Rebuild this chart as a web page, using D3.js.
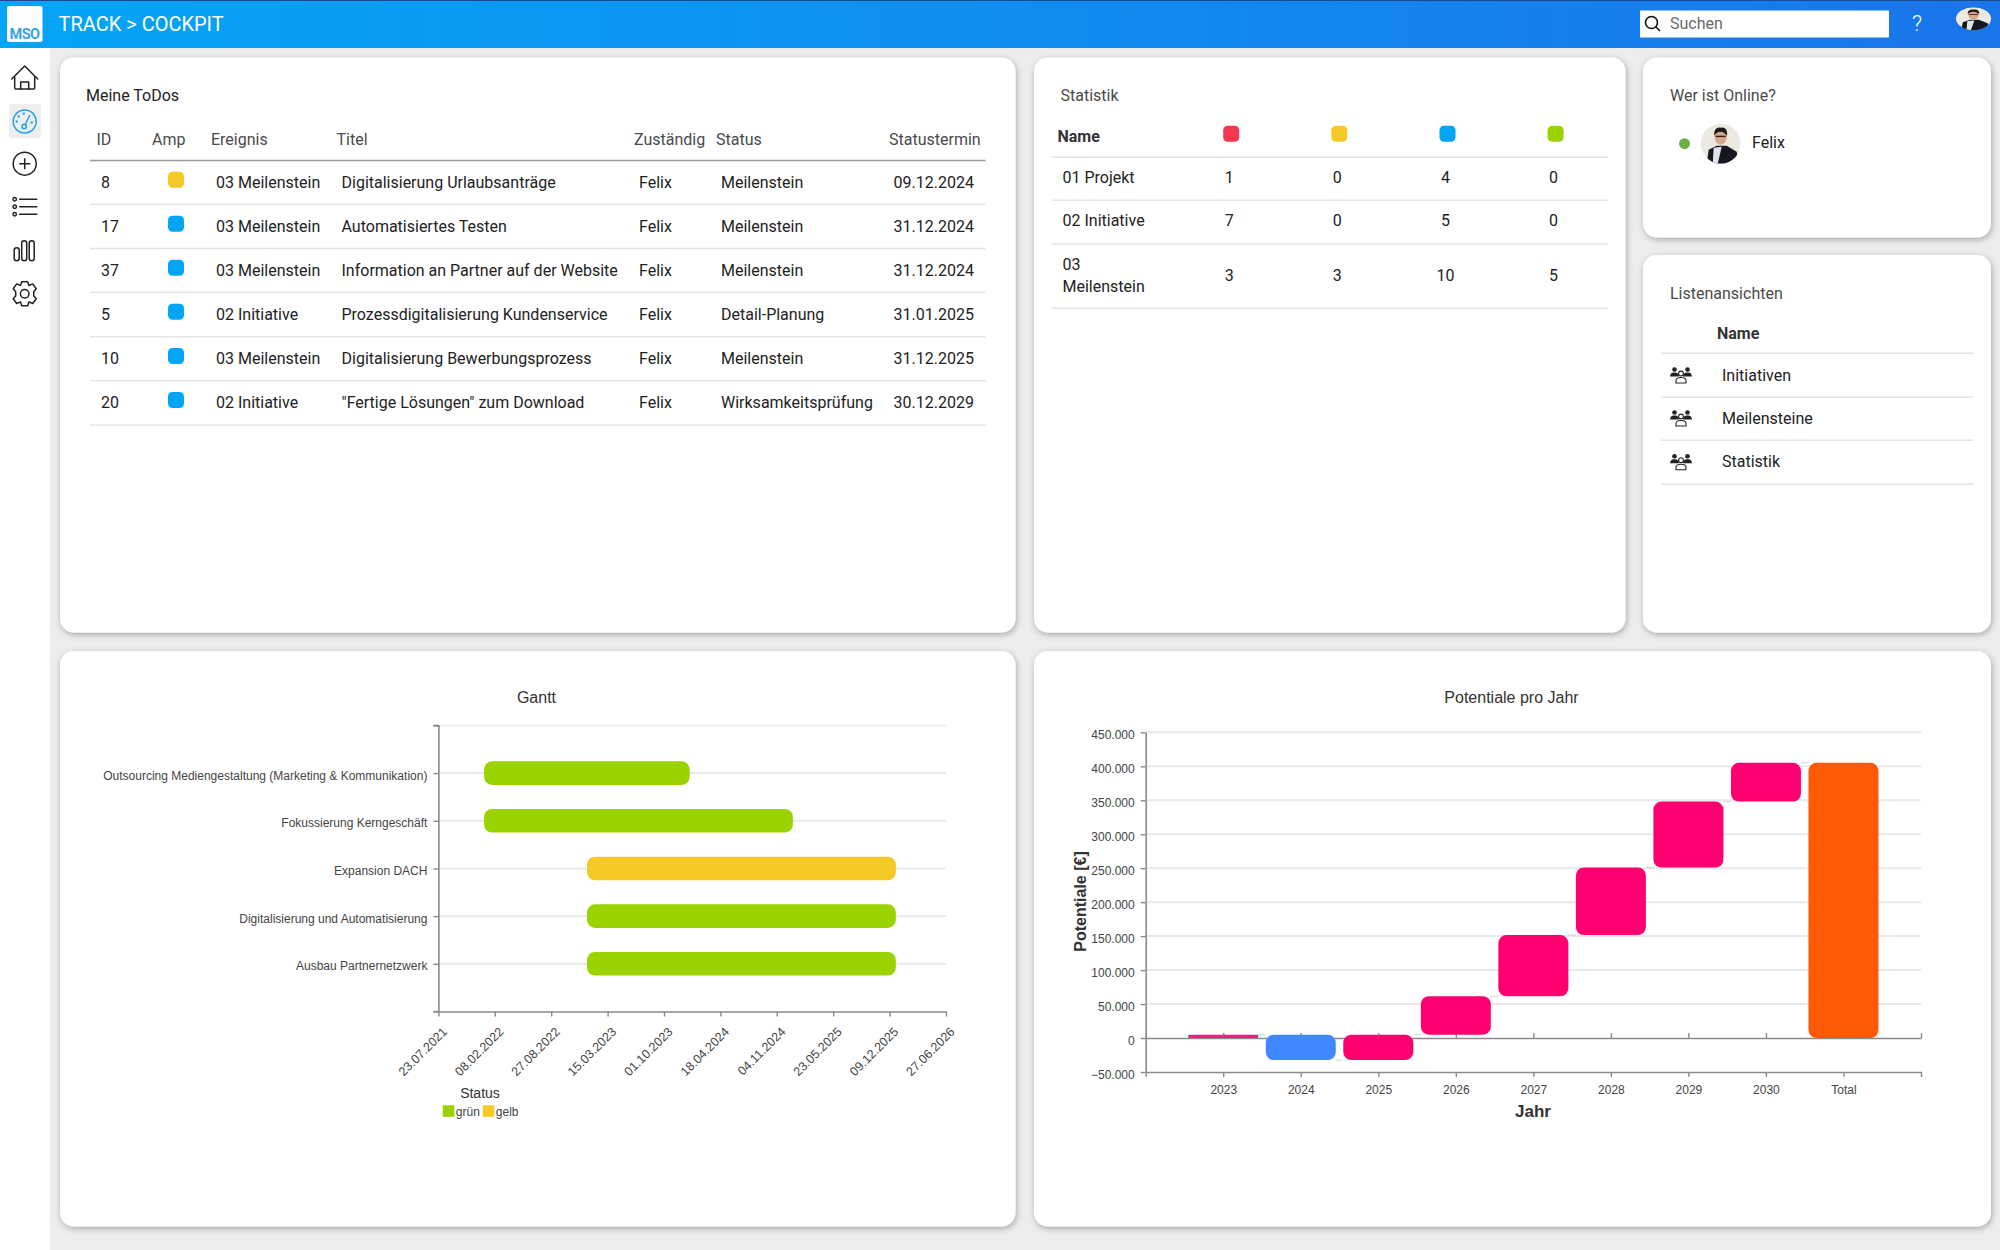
<!DOCTYPE html>
<html>
<head>
<meta charset="utf-8">
<script src="https://cdn.jsdelivr.net/npm/d3@7"></script>
<style>
  body { margin: 0; background: #ededed; }
  svg { display: block; }
  text { font-family: Roboto, sans-serif; }
  .chart text { font-family: "Liberation Sans", Arial, sans-serif; }
</style>
</head>
<body>
<div id="page"></div>
<script>
// ...............................
// data

// Meine ToDos
var todoHeaders = ["ID", "Amp", "Ereignis", "Titel", "Zuständig", "Status", "Statustermin"];
var todoIds = ["8", "17", "37", "5", "10", "20"];
var todoAmp = ["gelb", "blau", "blau", "blau", "blau", "blau"];
var todoEvents = ["03 Meilenstein", "03 Meilenstein", "03 Meilenstein", "02 Initiative", "03 Meilenstein", "02 Initiative"];
var todoTitles = ["Digitalisierung Urlaubsanträge", "Automatisiertes Testen", "Information an Partner auf der Website",
                  "Prozessdigitalisierung Kundenservice", "Digitalisierung Bewerbungsprozess", "\"Fertige Lösungen\" zum Download"];
var todoOwners = ["Felix", "Felix", "Felix", "Felix", "Felix", "Felix"];
var todoStatus = ["Meilenstein", "Meilenstein", "Meilenstein", "Detail-Planung", "Meilenstein", "Wirksamkeitsprüfung"];
var todoDates = ["09.12.2024", "31.12.2024", "31.12.2024", "31.01.2025", "31.12.2025", "30.12.2029"];

// Statistik
var statColours = ["rot", "gelb", "blau", "grün"];
var statNames = [["01 Projekt"], ["02 Initiative"], ["03", "Meilenstein"]];
var statRed = [1, 7, 3];
var statYellow = [0, 0, 3];
var statBlue = [4, 5, 10];
var statGreen = [0, 0, 5];

// Listenansichten
var listNames = ["Initiativen", "Meilensteine", "Statistik"];

// Gantt
var ganttTasks = ["Outsourcing Mediengestaltung (Marketing & Kommunikation)", "Fokussierung Kerngeschäft",
                  "Expansion DACH", "Digitalisierung und Automatisierung", "Ausbau Partnernetzwerk"];
var ganttStart = ["01.01.2022", "01.01.2022", "01.01.2023", "01.01.2023", "01.01.2023"];
var ganttEnd = ["31.12.2023", "31.12.2024", "31.12.2025", "31.12.2025", "31.12.2025"];
var ganttStatus = ["grün", "grün", "gelb", "grün", "grün"];
var ganttTicks = ["23.07.2021", "08.02.2022", "27.08.2022", "15.03.2023", "01.10.2023",
                  "18.04.2024", "04.11.2024", "23.05.2025", "09.12.2025", "27.06.2026"];
var legendNames = ["grün", "gelb"];

// Potentiale pro Jahr
var potYears = ["2023", "2024", "2025", "2026", "2027", "2028", "2029", "2030", "Total"];
var potFrom = [0, 5000, -32500, 5000, 61500, 151500, 251000, 348000, 0];
var potTo = [5000, -32500, 5000, 61500, 151500, 251000, 348000, 405000, 405000];
var potKinds = ["plus", "minus", "plus", "plus", "plus", "plus", "plus", "plus", "total"];
var potTicks = [-50000, 0, 50000, 100000, 150000, 200000, 250000, 300000, 350000, 400000, 450000];

// ...............................
// colours

var colour_amp = { rot: "#f4384f", gelb: "#f6ca26", blau: "#05a5f6", "grün": "#9bd300" };
var colour_kind = { plus: "#ff0070", minus: "#3f88ff", total: "#ff5a08" };
var colour_text = "#222", colour_head = "#4a4a4a", colour_line = "#e4e4e4";
var colour_grid = "#e9e9e9", colour_axis = "#8a8a8a", colour_label = "#444";

var svg = d3.select("#page").append("svg").attr("width", 2000).attr("height", 1250);
var defs = svg.append("defs");

var grad = defs.append("linearGradient").attr("id", "headGrad");
grad.append("stop").attr("offset", "0%").attr("stop-color", "#05a5f5");
grad.append("stop").attr("offset", "100%").attr("stop-color", "#1a75ea");

var shadow = defs.append("filter").attr("id", "cardShadow")
  .attr("x", "-5%").attr("y", "-5%").attr("width", "110%").attr("height", "110%");
shadow.append("feDropShadow").attr("dx", 1).attr("dy", 2).attr("stdDeviation", 3)
  .attr("flood-color", "#000").attr("flood-opacity", 0.3);

function fn_text(g, x, y, str, size, fill, anchor, weight) {
  return g.append("text").attr("x", x).attr("y", y).attr("dy", "0.35em")
    .attr("font-size", size).attr("fill", fill || colour_text)
    .attr("text-anchor", anchor || "start").attr("font-weight", weight || 400)
    .text(str);
}

function fn_card(x0, y0, x1, y1) {
  svg.append("rect").attr("x", x0).attr("y", y0).attr("width", x1 - x0).attr("height", y1 - y0)
    .attr("rx", 14).attr("fill", "#fff").attr("filter", "url(#cardShadow)");
}

function fn_hline(g, x0, x1, y, colour, w) {
  g.append("line").attr("x1", x0).attr("x2", x1).attr("y1", y).attr("y2", y)
    .attr("stroke", colour || colour_line).attr("stroke-width", w || 1.5);
}

function fn_ampBox(g, x, y, name) {
  g.append("rect").attr("x", x).attr("y", y).attr("width", 16).attr("height", 16)
    .attr("rx", 4.5).attr("fill", colour_amp[name]);
}

// simple stand-in for the user photo
function fn_avatar(cx, cy, rx, ry, id) {
  defs.append("clipPath").attr("id", id).append("ellipse")
    .attr("cx", cx).attr("cy", cy).attr("rx", rx).attr("ry", ry);
  var a = svg.append("g").attr("clip-path", "url(#" + id + ")");
  var sx = rx / 20, sy = ry / 20;
  a.append("ellipse").attr("cx", cx).attr("cy", cy).attr("rx", rx).attr("ry", ry).attr("fill", "#ece8e2");
  var p = a.append("g").attr("transform", "translate(" + cx + "," + cy + ") scale(" + sx + "," + sy + ")");
  p.append("path").attr("d", "M-14,20 L-12,6 L-4,2 L6,2 L16,8 L18,20 Z").attr("fill", "#15181e");
  p.append("path").attr("d", "M-8,20 L-7,4 L1,3 L-3,20 Z").attr("fill", "#dfe5ea");
  p.append("ellipse").attr("cx", 0).attr("cy", -7).attr("rx", 6.2).attr("ry", 8).attr("fill", "#d9a88a");
  p.append("path").attr("d", "M-6.5,-8 Q-7,-17 0,-16 Q7,-17 6.5,-8 Q3,-12 0,-12 Q-4,-12 -6.5,-8 Z").attr("fill", "#1d1a18");
  p.append("rect").attr("x", -5).attr("y", -8).attr("width", 10).attr("height", 1.4).attr("fill", "#222");
}

// ...............................
// header + sidebar

function fn_header() {
  svg.append("rect").attr("x", 0).attr("y", 48).attr("width", 50).attr("height", 1202).attr("fill", "#fff");
  svg.append("rect").attr("width", 2000).attr("height", 48).attr("fill", "url(#headGrad)");
  svg.append("rect").attr("width", 2000).attr("height", 1).attr("fill", "#174a8f");

  svg.append("rect").attr("x", 7).attr("y", 6).attr("width", 35.5).attr("height", 36)
    .attr("rx", 2).attr("fill", "#fff");
  fn_text(svg, 24.5, 33.5, "MSO", 14.5, "#3aa2e6", "middle", 700).attr("letter-spacing", -0.6);
  fn_text(svg, 58.5, 23.5, "TRACK > COCKPIT", 20, "#fff");

  svg.append("rect").attr("x", 1640).attr("y", 10.5).attr("width", 249).attr("height", 27).attr("fill", "#fff");
  svg.append("circle").attr("cx", 1651.5).attr("cy", 22.5).attr("r", 6).attr("fill", "none")
    .attr("stroke", "#111").attr("stroke-width", 1.6);
  svg.append("line").attr("x1", 1656).attr("y1", 27).attr("x2", 1660).attr("y2", 31)
    .attr("stroke", "#111").attr("stroke-width", 1.6);
  fn_text(svg, 1670, 23, "Suchen", 16, "#6a6a6a");
  fn_text(svg, 1917, 23.5, "?", 22, "#fff", "middle", 300);
  fn_avatar(1973.5, 18.7, 17.7, 11.5, "avatarTop");
}

function fn_sidebar() {
  var ink = "#222";
  function icon(y) {
    return svg.append("g").attr("transform", "translate(24.7," + y + ")")
      .attr("fill", "none").attr("stroke", ink).attr("stroke-width", 1.5)
      .attr("stroke-linecap", "round").attr("stroke-linejoin", "round");
  }
  // home
  var home = icon(78);
  home.append("path").attr("d", "M-13,1 L0,-12 L13,1");
  home.append("path").attr("d", "M-10,-1 V10 Q-10,11 -9,11 H9 Q10,11 10,10 V-1");
  home.append("path").attr("d", "M-4,11 V4 H4 V11");

  // cockpit, highlighted
  svg.append("rect").attr("x", 9).attr("y", 104).attr("width", 32).attr("height", 34).attr("rx", 3).attr("fill", "#eeeeee");
  var dash = icon(121.5).attr("stroke", "#29a3e6");
  dash.append("circle").attr("r", 11.5);
  dash.append("circle").attr("cx", -0.5).attr("cy", 5).attr("r", 2.2);
  dash.append("line").attr("x1", 0.5).attr("y1", 3).attr("x2", 5).attr("y2", -6);
  [[-8, 0], [-6, -5], [-1, -8], [7, 1]].forEach(function (d) {
    dash.append("circle").attr("cx", d[0]).attr("cy", d[1]).attr("r", 0.5);
  });

  // plus
  var plus = icon(163.7);
  plus.append("circle").attr("r", 11.5);
  plus.append("path").attr("d", "M-5,0 H5 M0,-5 V5");

  // list
  var list = icon(206.7);
  [-7.5, 0, 7.5].forEach(function (d) {
    list.append("circle").attr("cx", -10).attr("cy", d).attr("r", 1.7);
    list.append("line").attr("x1", -5).attr("x2", 12).attr("y1", d).attr("y2", d);
  });

  // bars
  var bars = icon(250.7);
  bars.append("rect").attr("x", -10.5).attr("y", -3).attr("width", 5).attr("height", 13).attr("rx", 2.5);
  bars.append("rect").attr("x", -3).attr("y", -10).attr("width", 5).attr("height", 20).attr("rx", 2.5);
  bars.append("rect").attr("x", 4.5).attr("y", -10).attr("width", 5).attr("height", 20).attr("rx", 2.5);

  // gear
  var gear = icon(293.7);
  gear.append("circle").attr("r", 4.3);
  gear.append("path").attr("d", "M-3,-12 L3,-12 L4.2,-8.2 L8,-9.8 L11.5,-5 L9,-2 L9,2 L11.5,5 L8,9.8 L4.2,8.2 L3,12 L-3,12 L-4.2,8.2 L-8,9.8 L-11.5,5 L-9,2 L-9,-2 L-11.5,-5 L-8,-9.8 L-4.2,-8.2 Z");
}

// ...............................
// tables

function fn_todos() {
  var g = svg.append("g");
  var headX = [96.5, 152, 211, 336.5, 634, 716, 889];
  var rowY = [182, 226, 270, 314, 358.3, 402.3];
  var lineY = [204.3, 248.5, 292.3, 336.7, 380.7, 425];
  var cols = [todoIds, null, todoEvents, todoTitles, todoOwners, todoStatus, todoDates];
  var rowX = [101, null, 216, 341.5, 639, 721, 893.5];

  fn_text(g, 86, 95, "Meine ToDos", 16, colour_text);
  todoHeaders.forEach(function (h, i) {
    fn_text(g, headX[i], 139.7, h, 16, colour_head);
  });
  fn_hline(g, 90, 985.5, 160.5, "#9a9a9a", 1.5);

  todoIds.forEach(function (d, r) {
    cols.forEach(function (col, c) {
      if (col) fn_text(g, rowX[c], rowY[r], col[r], 16, colour_text);
    });
    fn_ampBox(g, 168, rowY[r] - 10.3, todoAmp[r]);
    fn_hline(g, 90, 985.5, lineY[r]);
  });
}

function fn_statistik() {
  var g = svg.append("g");
  var colX = [1231.2, 1339.3, 1447.5, 1555.6];
  var rowY = [177.7, 220.7, 275];
  var lineY = [200.3, 244, 308.3];
  var cols = [statRed, statYellow, statBlue, statGreen];

  fn_text(g, 1060.5, 95, "Statistik", 16, colour_head);
  fn_text(g, 1057.5, 136, "Name", 16, "#333", "start", 700);
  statColours.forEach(function (c, i) { fn_ampBox(g, colX[i] - 8, 125.7, c); });
  fn_hline(g, 1052, 1608, 157.3);

  statNames.forEach(function (lines, r) {
    lines.forEach(function (s, k) {
      fn_text(g, 1062.5, rowY[r] + (lines.length > 1 ? (k === 0 ? -10.7 : 11) : 0), s, 16, colour_text);
    });
    cols.forEach(function (col, c) {
      fn_text(g, colX[c] - 2, rowY[r], col[r], 16, colour_text, "middle");
    });
    fn_hline(g, 1052, 1608, lineY[r]);
  });
}

function fn_online() {
  var g = svg.append("g");
  fn_text(g, 1670, 95, "Wer ist Online?", 16, colour_head);
  g.append("circle").attr("cx", 1684.5).attr("cy", 143.7).attr("r", 5.5).attr("fill", "#6cb044");
  fn_avatar(1720.7, 143.7, 20, 20, "avatarFelix");
  fn_text(svg, 1752, 142.3, "Felix", 16, colour_text);
}

function fn_groupIcon(g, x, y) {
  var i = g.append("g").attr("transform", "translate(" + x + "," + y + ")");
  [-6.5, 6.5].forEach(function (d) {
    i.append("circle").attr("cx", d).attr("cy", -5.5).attr("r", 2.3).attr("fill", "#222");
    i.append("path").attr("d", "M" + (d - 4.5) + ",1.5 Q" + (d - 4) + ",-3 " + d + ",-2.5 Q" + (d + 4) + ",-3 " + (d + 4.5) + ",1.5 Z").attr("fill", "#222");
  });
  i.append("circle").attr("cx", 0).attr("cy", -1.5).attr("r", 2.4).attr("fill", "#fff").attr("stroke", "#222").attr("stroke-width", 1.1);
  i.append("path").attr("d", "M-5,8 V5.5 Q-5,2.5 0,2.5 Q5,2.5 5,5.5 V8 Z").attr("fill", "#fff").attr("stroke", "#222").attr("stroke-width", 1.1);
}

function fn_lists() {
  var g = svg.append("g");
  var rowY = [375, 418, 461.7];
  var lineY = [397.3, 440.3, 484.3];
  fn_text(g, 1670, 293.3, "Listenansichten", 16, colour_head);
  fn_text(g, 1717, 333.3, "Name", 16, "#333", "start", 700);
  fn_hline(g, 1661, 1973, 353.3);
  listNames.forEach(function (s, r) {
    fn_groupIcon(g, 1681, rowY[r]);
    fn_text(g, 1722, rowY[r], s, 16, colour_text);
    fn_hline(g, 1661, 1973, lineY[r]);
  });
}

// ...............................
// charts

function fn_styleAxis(g) {
  g.selectAll("path").attr("stroke", colour_axis).attr("stroke-width", 1.6);
  g.selectAll("line").attr("stroke", colour_axis).attr("stroke-width", 1.4);
  g.selectAll("text").attr("fill", colour_label).attr("font-size", 12);
}

function fn_gantt() {
  var g = svg.append("g").attr("class", "chart");
  var parseDate = d3.timeParse("%d.%m.%Y"), formatDate = d3.timeFormat("%d.%m.%Y");
  var tickDates = ganttTicks.map(parseDate);

  var x = d3.scaleTime().domain([tickDates[0], tickDates[tickDates.length - 1]]).range([438.4, 946]);
  var y = d3.scalePoint().domain(ganttTasks).range([725.4, 1011.5]).padding(1);
  var left = 438.4, right = 946, top = 725.4, bottom = 1011.5;

  fn_text(g, 536.5, 697.8, "Gantt", 16, "#333", "middle");

  // grid
  fn_hline(g, left, right, top, colour_grid, 1.5);
  ganttTasks.forEach(function (t) { fn_hline(g, left, right, y(t), colour_grid, 2); });

  var xAxis = g.append("g").attr("transform", "translate(0," + bottom + ")")
    .call(d3.axisBottom(x).tickValues(tickDates).tickFormat(formatDate).tickSize(5).tickSizeOuter(0));
  fn_styleAxis(xAxis);
  xAxis.selectAll("text").attr("text-anchor", "end").attr("font-size", 12.5).attr("dy", 0)
    .attr("transform", "translate(9,21) rotate(-45)").attr("y", 0).attr("x", 0);

  var yAxis = g.append("g").attr("transform", "translate(" + left + ",0)")
    .call(d3.axisLeft(y).tickSize(5).tickPadding(6).tickSizeOuter(5));
  fn_styleAxis(yAxis);
  yAxis.selectAll("text").attr("dy", "0.5em");
  // end marks on the vertical axis
  yAxis.append("line").attr("x1", -5).attr("x2", 0).attr("y1", top).attr("y2", top).attr("stroke", colour_axis).attr("stroke-width", 1.4);
  yAxis.append("line").attr("x1", -5).attr("x2", 0).attr("y1", bottom).attr("y2", bottom).attr("stroke", colour_axis).attr("stroke-width", 1.4);

  // bars
  g.selectAll(".ganttBar").data(ganttTasks).enter().append("rect")
    .attr("class", "ganttBar")
    .attr("x", function (d, i) { return x(parseDate(ganttStart[i])); })
    .attr("width", function (d, i) { return x(parseDate(ganttEnd[i])) - x(parseDate(ganttStart[i])); })
    .attr("y", function (d) { return y(d) - 11.8; })
    .attr("height", 23.6).attr("rx", 8)
    .attr("fill", function (d, i) { return colour_amp[ganttStatus[i]]; });

  // legend
  fn_text(g, 480, 1093.5, "Status", 14, "#333", "middle");
  legendNames.forEach(function (name, i) {
    var lx = 442.8 + i * 40;
    g.append("rect").attr("x", lx).attr("y", 1105.3).attr("width", 11.5).attr("height", 11.5)
      .attr("fill", colour_amp[name]);
    fn_text(g, lx + 13, 1112, name, 12, colour_label);
  });
}

function fn_potentiale() {
  var g = svg.append("g").attr("class", "chart");
  var left = 1145.7, right = 1921;
  var x = d3.scalePoint().domain(["start"].concat(potYears, ["end"])).range([left, right]);
  var y = d3.scaleLinear().domain([-50000, 450000]).range([1072, 732.3]);
  var barWidth = 70;
  var formatDE = function (v) { return d3.format(",")(v).replace(/,/g, "."); };

  fn_text(g, 1511.5, 697.8, "Potentiale pro Jahr", 16, "#333", "middle");

  // grid
  potTicks.forEach(function (t) { if (t !== 0 && t !== -50000) fn_hline(g, left, right, y(t), colour_grid, 2); });

  var yAxis = g.append("g").attr("transform", "translate(" + left + ",0)")
    .call(d3.axisLeft(y).tickValues(potTicks).tickFormat(formatDE).tickSize(5).tickPadding(6).tickSizeOuter(0));
  fn_styleAxis(yAxis);
  yAxis.selectAll("text").attr("dy", "0.5em");

  // axis at the bottom carries the labels, tick names for the two end slots stay empty
  var xAxis = g.append("g").attr("transform", "translate(0," + y(-50000) + ")")
    .call(d3.axisBottom(x).tickSize(5).tickSizeOuter(0).tickPadding(8)
      .tickFormat(function (d) { return potYears.indexOf(d) < 0 ? "" : d; }));
  fn_styleAxis(xAxis);

  // zero line with upward ticks
  var zeroAxis = g.append("g").attr("transform", "translate(0," + y(0) + ")")
    .call(d3.axisTop(x).tickSize(5).tickSizeOuter(0).tickFormat(""));
  fn_styleAxis(zeroAxis);

  // connectors between the floating bars
  potYears.forEach(function (d, i) {
    if (i === potYears.length - 1) return;
    g.append("line")
      .attr("x1", x(d) + barWidth / 2).attr("x2", x(potYears[i + 1]) - barWidth / 2)
      .attr("y1", y(potTo[i])).attr("y2", y(potTo[i]))
      .attr("stroke", "#d4d4d4").attr("stroke-width", 1);
  });

  g.selectAll(".potBar").data(potYears).enter().append("rect")
    .attr("class", "potBar")
    .attr("x", function (d) { return x(d) - barWidth / 2; })
    .attr("width", barWidth)
    .attr("y", function (d, i) { return y(Math.max(potFrom[i], potTo[i])); })
    .attr("height", function (d, i) { return Math.abs(y(potFrom[i]) - y(potTo[i])); })
    .attr("rx", function (d, i) { return Math.min(8, Math.abs(y(potFrom[i]) - y(potTo[i])) / 2 - 0.5); })
    .attr("fill", function (d, i) { return colour_kind[potKinds[i]]; })
    .attr("opacity", function (d, i) { return i === 0 ? 0.9 : 1; });

  // zero ticks stay visible across the small bars
  g.append("g").attr("transform", "translate(0," + y(0) + ")").call(function (s) {
    ["2023", "2024", "2025"].forEach(function (d) {
      s.append("line").attr("x1", x(d)).attr("x2", x(d)).attr("y1", -5).attr("y2", 0)
        .attr("stroke", colour_axis).attr("stroke-opacity", 0.6);
    });
  });

  g.append("text").attr("transform", "translate(1080,901.5) rotate(-90)")
    .attr("dy", "0.35em").attr("text-anchor", "middle").attr("font-size", 16)
    .attr("font-weight", 700).attr("fill", "#333").text("Potentiale [€]");
  fn_text(g, 1533, 1110.8, "Jahr", 17, "#333", "middle", 700);
}

// ...............................
// page

fn_card(60, 57.5, 1015.5, 632.5);
fn_card(1034, 57.5, 1625.5, 632.5);
fn_card(1643, 57.5, 1991, 237.5);
fn_card(1643, 255, 1991, 632.5);
fn_card(60, 651, 1015.5, 1226.5);
fn_card(1034, 651, 1991, 1226.5);

fn_header();
fn_sidebar();
fn_todos();
fn_statistik();
fn_online();
fn_lists();
fn_gantt();
fn_potentiale();
</script>
</body>
</html>
